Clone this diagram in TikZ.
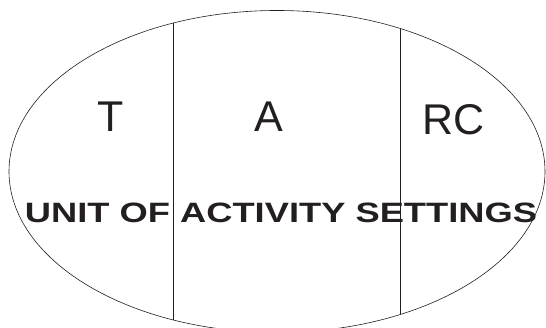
\documentclass[tikz,border=0pt]{standalone}
\usepackage{fontspec}
\usepackage{graphicx}
\setmainfont{Liberation Sans}
\definecolor{ink}{HTML}{231F20}
\begin{document}
\begin{tikzpicture}[x=1pt,y=1pt,
  outline/.style={draw=ink,line width=0.6pt},
  divider/.style={draw=ink,line width=0.8pt},
  bigletter/.style={text=ink,font=\fontsize{43}{43}\selectfont,inner sep=0pt,anchor=base},
  caption/.style={text=ink,font=\bfseries\fontsize{28}{28}\selectfont,inner sep=0pt,anchor=base}]
\useasboundingbox (0,0) rectangle (546,328);
\draw[outline] (277,156.5) ellipse [x radius=268, y radius=161];
\begin{scope}
  \clip (277,156.5) ellipse [x radius=268, y radius=161];
  \coordinate (l1t) at (173,340);
  \coordinate (l1b) at (173,-20);
  \coordinate (l2t) at (400,340);
  \coordinate (l2b) at (400,-20);
  \draw[divider] (l1t) -- (l1b);
  \draw[divider] (l2t) -- (l2b);
\end{scope}
\node[bigletter] (t) at (111,196) {T};
\node[bigletter] (a) at (269,196) {A};
\node[bigletter] (rc) at (454,193) {RC};
\node[caption] (u) at (281,105) {\scalebox{1.296}[1]{UNIT OF ACTIVITY SETTINGS}};
\end{tikzpicture}
\end{document}
